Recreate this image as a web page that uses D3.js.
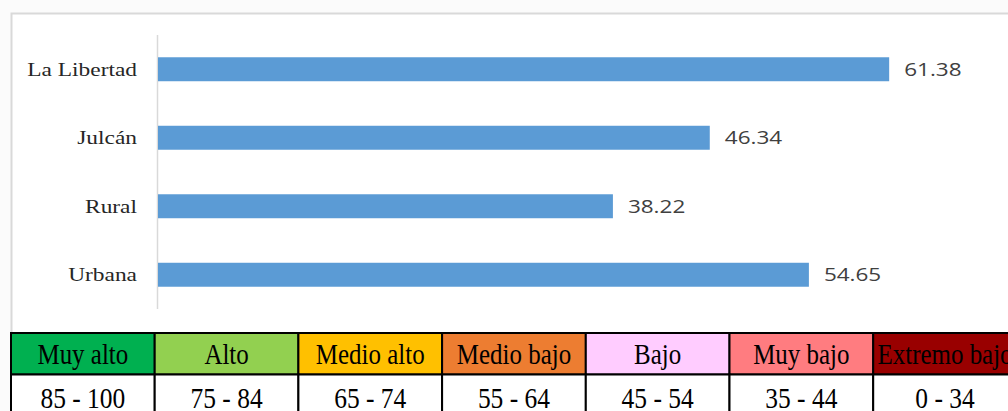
<!DOCTYPE html>
<html lang="es">
<head>
<meta charset="UTF-8">
<title>Índice por ámbito</title>
<style>
  html,body{margin:0;padding:0;background:#fff;}
  svg{display:block;}
  .cat{font-family:"Liberation Serif","Times New Roman",serif;font-size:18px;fill:#262626;}
  .val{font-family:"Open Sans",sans-serif;font-size:18px;fill:#404040;}
  .cell{font-family:"Liberation Serif","Times New Roman",serif;font-size:26px;fill:#000;}
</style>
</head>
<body>
<script src="https://cdn.jsdelivr.net/npm/d3@7"></script>
<script>
// datos del gráfico
var categorias = ["La Libertad", "Julcán", "Rural", "Urbana"];
var valores = [61.38, 46.34, 38.22, 54.65];

// tabla de niveles
var niveles = ["Muy alto", "Alto", "Medio alto", "Medio bajo", "Bajo", "Muy bajo", "Extremo bajo"];
var rangos = ["85 - 100", "75 - 84", "65 - 74", "55 - 64", "45 - 54", "35 - 44", "0 - 34"];
var coloresNivel = ["#00b050", "#92d050", "#ffc000", "#ed7d31", "#ffccff", "#ff7c80", "#990000"];

var W = 1008, H = 411;
var svg = d3.select("body").append("svg").attr("width", W).attr("height", H);

// marco del gráfico
svg.append("rect").attr("x", 0).attr("y", 0).attr("width", W).attr("height", H).attr("fill", "#fbfbfb");
svg.append("rect").attr("x", 11.5).attr("y", 13.5).attr("width", W).attr("height", 330)
  .attr("fill", "#fff").attr("stroke", "#d9d9d9").attr("stroke-width", 2);

var x = d3.scaleLinear().domain([0, 70]).range([157, 992]);
var y = d3.scaleBand().domain(categorias).range([35, 309]).paddingInner(0.65).paddingOuter(0.325);

// eje vertical
svg.append("line").attr("x1", 157.5).attr("x2", 157.5).attr("y1", 35).attr("y2", 309)
  .attr("stroke", "#d9d9d9").attr("stroke-width", 1.5);

var data = categorias.map(function(c, i){ return {cat: c, v: valores[i]}; });

svg.selectAll(".bar").data(data).enter().append("rect")
  .attr("class", "bar")
  .attr("x", x(0) + 1)
  .attr("y", function(d){ return y(d.cat); })
  .attr("width", function(d){ return x(d.v) - x(0) - 1; })
  .attr("height", y.bandwidth())
  .attr("fill", "#5b9bd5");

// etiquetas de categoría (estiradas horizontalmente como en el original)
svg.selectAll(".cat").data(data).enter().append("text")
  .attr("class", "cat")
  .attr("text-anchor", "end")
  .attr("dy", "0.35em")
  .attr("transform", function(d){ return "translate(137," + (y(d.cat) + y.bandwidth() / 2) + ") scale(1.3,1)"; })
  .text(function(d){ return d.cat; });

// etiquetas de valor
svg.selectAll(".val").data(data).enter().append("text")
  .attr("class", "val")
  .attr("dy", "0.36em")
  .attr("transform", function(d){ return "translate(" + (x(d.v) + 15) + "," + (y(d.cat) + y.bandwidth() / 2) + ") scale(1.25,1)"; })
  .text(function(d){ return d.v.toFixed(2); });

// tabla
var colW = 143.7, x0 = 11, t0 = 333, r1 = 41.5, r2 = 40;
var col = d3.scaleBand().domain(d3.range(niveles.length)).range([x0, x0 + colW * niveles.length]);

var tabla = svg.append("g");
tabla.selectAll(".hdr").data(niveles).enter().append("rect")
  .attr("x", function(d, i){ return col(i); })
  .attr("y", t0).attr("width", col.bandwidth()).attr("height", r1)
  .attr("fill", function(d, i){ return coloresNivel[i]; })
  .attr("stroke", "#000").attr("stroke-width", 2);
tabla.selectAll(".rng").data(rangos).enter().append("rect")
  .attr("x", function(d, i){ return col(i); })
  .attr("y", t0 + r1).attr("width", col.bandwidth()).attr("height", r2)
  .attr("fill", "#fff")
  .attr("stroke", "#000").attr("stroke-width", 2);

tabla.selectAll(".tn").data(niveles).enter().append("text")
  .attr("class", "cell").attr("text-anchor", "middle")
  .attr("transform", function(d, i){ return "translate(" + (col(i) + col.bandwidth() / 2) + "," + (t0 + 31) + ") scale(0.96,1.12)"; })
  .text(function(d){ return d; });
tabla.selectAll(".tr").data(rangos).enter().append("text")
  .attr("class", "cell").attr("text-anchor", "middle")
  .attr("transform", function(d, i){ return "translate(" + (col(i) + col.bandwidth() / 2) + "," + (t0 + r1 + 33) + ") scale(0.98,1.15)"; })
  .text(function(d){ return d; });
</script>
</body>
</html>
